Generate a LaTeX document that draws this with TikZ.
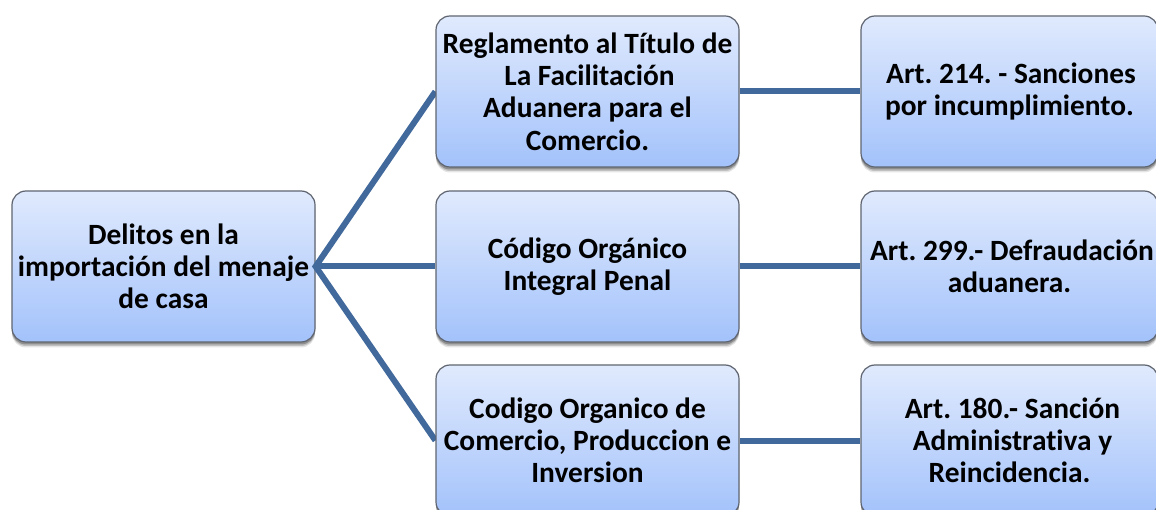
\documentclass[tikz,border=0pt]{standalone}
\usepackage{fontspec}
\setmainfont{Carlito}[Ligatures=CommonOff]
\usetikzlibrary{shadows,backgrounds}
\pgfdeclarelayer{front}
\pgfsetlayers{background,main,front}
\definecolor{boxtop}{HTML}{E0EAFD}
\definecolor{boxbot}{HTML}{A3C2FB}
\definecolor{boxline}{HTML}{5F6570}
\definecolor{link}{HTML}{41699C}
\tikzset{
  termbox/.style={
    rectangle, rounded corners=14pt, draw=boxline, line width=1.2pt,
    top color=boxtop, bottom color=boxbot,
    minimum width=303pt, minimum height=151pt, inner sep=0pt,
    align=center, anchor=center, text=black,
    font=\fontsize{29.4}{32.2}\selectfont\bfseries\frenchspacing,
    drop shadow={shadow xshift=0pt,shadow yshift=-5.5pt,opacity=.10,fill=black},
    drop shadow={shadow xshift=0pt,shadow yshift=-4pt,opacity=.16,fill=black},
    drop shadow={shadow xshift=0pt,shadow yshift=-2.5pt,opacity=.26,fill=black}},
  rightbox/.style={termbox, minimum width=297pt},
  linkline/.style={draw=link, line width=6pt}
}
\begin{document}
\begin{tikzpicture}[x=1pt,y=-1pt]
\useasboundingbox (0,0) rectangle (1156,510);
\clip (0,0) rectangle (1156,510);
\begin{pgfonlayer}{background}
\fill[white] (0,0) rectangle (1156,510);
\end{pgfonlayer}
\node[termbox] (root) at (163.5,266.5) {Delitos en la\\importación del menaje\\de casa};
\begin{pgfonlayer}{front}
\node[termbox] (m1) at (587.5,91.5) {Reglamento al Título de\\\hspace*{4pt}La Facilitación\\Aduanera para el\\Comercio.};
\node[termbox] (m2) at (587.5,266.5) {Código Orgánico\\Integral Penal};
\node[termbox] (m3) at (587.5,440.5) {Codigo Organico de\\Comercio, Produccion e\\Inversion};
\node[rightbox] (r1) at (1009.5,91.5) {\hspace*{3pt}Art. 214. - Sanciones\\por incumplimiento.};
\node[rightbox] (r2) at (1009.5,266.5) {\hspace*{5pt}Art. 299.- Defraudación\\aduanera.};
\node[rightbox] (r3) at (1009.5,440.5) {\hspace*{6pt}Art. 180.- Sanción\\\hspace*{6pt}Administrativa y\\Reincidencia.};
\end{pgfonlayer}
\draw[linkline, shorten <=-2pt] (root.east) -- (m1.west);
\draw[linkline, shorten <=-2pt] (root.east) -- (m2.west);
\draw[linkline, shorten <=-2pt] (root.east) -- (m3.west);
\draw[linkline] (m1.east) -- (r1.west);
\draw[linkline] (m2.east) -- (r2.west);
\draw[linkline] (m3.east) -- (r3.west);
\end{tikzpicture}
\end{document}
